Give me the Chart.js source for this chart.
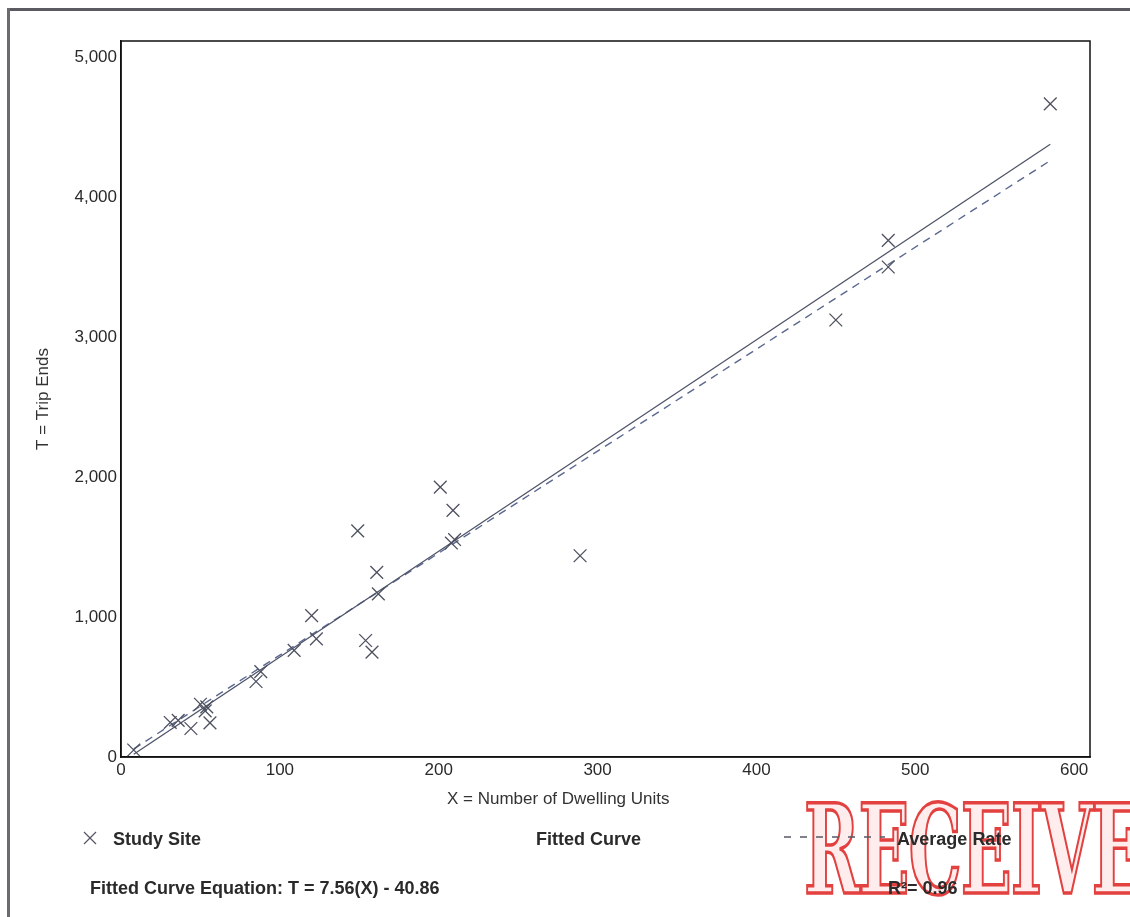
<!DOCTYPE html>
<html>
<head>
<meta charset="utf-8">
<title>Trip Ends vs Dwelling Units</title>
<script src="https://cdn.jsdelivr.net/npm/chart.js@4.4.1/dist/chart.umd.min.js"></script>
<style>
  html, body { margin: 0; padding: 0; background: #fff; }
  body { width: 1130px; height: 917px; position: relative; overflow: hidden;
         font-family: "Liberation Sans", Arial, sans-serif; color: #222; }
  #wrap { position: absolute; left: 0; top: 0; width: 1130px; height: 917px; }
  .frame-top { position: absolute; left: 7px; top: 8px; width: 1123px; height: 3px; background: #5a5a60; }
  .frame-left { position: absolute; left: 7px; top: 8px; width: 3px; height: 909px; background: #6a6a70; }
  .txt { position: absolute; white-space: nowrap; line-height: 1; z-index: 3; }
  .bold { font-weight: bold; font-size: 18px; color: #2a2a2a; }
  #xTitle { font-size: 17px; color: #333; }
  #stamp { position: absolute; left: 804px; top: 788px; z-index: 2;
           font-family: "DejaVu Serif", "Liberation Serif", serif; font-weight: bold;
           font-size: 124px; letter-spacing: -2px; line-height: 1;
           color: rgba(255,215,215,0.45); -webkit-text-stroke: 3.5px #e2413f;
           transform-origin: left top; transform: scaleX(0.54); }
</style>
</head>
<body>
<div id="wrap"><canvas id="tripChart" width="1130" height="917"></canvas></div>
<div class="frame-top"></div>
<div class="frame-left"></div>

<div class="txt" id="xTitle" style="left:447px; top:790px;">X = Number of Dwelling Units</div>

<div id="stamp">RECEIVED</div>

<svg class="txt" style="left:82px; top:830px;" width="16" height="16">
  <line x1="2" y1="2" x2="14" y2="14" stroke="#555a66" stroke-width="1.3"/>
  <line x1="14" y1="2" x2="2" y2="14" stroke="#555a66" stroke-width="1.3"/>
</svg>
<div class="txt bold" style="left:113px; top:830px;">Study Site</div>
<div class="txt bold" style="left:536px; top:830px;">Fitted Curve</div>
<svg class="txt" style="left:782px; top:832px;" width="105" height="10">
  <line x1="2" y1="5" x2="103" y2="5" stroke="#555a66" stroke-width="1.5" stroke-dasharray="7,9"/>
</svg>
<div class="txt bold" style="left:897px; top:830px;">Average Rate</div>
<div class="txt bold" style="left:90px; top:879px;">Fitted Curve Equation: T = 7.56(X) - 40.86</div>
<div class="txt bold" style="left:888px; top:879px;">R²= 0.96</div>

<script>
/* ---------------- data ---------------- */
const siteX = [8, 31, 36, 44, 50, 53, 54, 56, 85, 88, 109, 120, 123, 149, 154, 158,
               161, 162, 201, 208, 209, 210, 289, 450, 483, 483, 585];
const siteY = [50, 247, 262, 204, 377, 330, 358, 244, 540, 610, 762, 1011, 845, 1617, 833, 750,
               1320, 1166, 1930, 1530, 1764, 1555, 1439, 3125, 3694, 3504, 4670];

// fitted curve T = 7.56(X) - 40.86 and average rate, endpoints as drawn
const fitX = [8, 585];
const fitY = [20, 4382];
const avgX = [8, 585];
const avgY = [58, 4265];

const xTicks = [0, 100, 200, 300, 400, 500, 600];
const yTicks = [0, 1000, 2000, 3000, 4000, 5000];

const toPoints = (xs, ys) => xs.map((x, i) => ({ x, y: ys[i] }));

/* ---------------- plot frame (top + right sides) ---------------- */
const frameBox = {
  id: 'frameBox',
  afterDraw(chart) {
    const { ctx, chartArea: a } = chart;
    ctx.save();
    ctx.strokeStyle = '#111';
    ctx.lineWidth = 1.5;
    ctx.strokeRect(a.left, a.top, a.right - a.left, a.bottom - a.top);
    ctx.restore();
  }
};

const tickFont = { family: '"Liberation Sans", Arial, sans-serif', size: 17 };

new Chart(document.getElementById('tripChart'), {
  type: 'scatter',
  data: {
    datasets: [
      {
        label: 'Study Site',
        data: toPoints(siteX, siteY),
        pointStyle: 'crossRot',
        pointRadius: 9,
        borderColor: '#4d5160',
        borderWidth: 1.3,
        order: 1
      },
      {
        type: 'line',
        label: 'Fitted Curve',
        data: toPoints(fitX, fitY),
        borderColor: '#4e5368',
        borderWidth: 1.3,
        pointRadius: 0,
        order: 2
      },
      {
        type: 'line',
        label: 'Average Rate',
        data: toPoints(avgX, avgY),
        borderColor: '#5b6890',
        borderWidth: 1.4,
        borderDash: [8, 6],
        pointRadius: 0,
        order: 3
      }
    ]
  },
  options: {
    responsive: false,
    animation: false,
    layout: { padding: { left: 0, top: 41, right: 40, bottom: 130 } },
    plugins: { legend: { display: false }, tooltip: { enabled: false } },
    scales: {
      x: {
        type: 'linear',
        min: 0,
        max: 610,
        afterBuildTicks: s => { s.ticks = xTicks.map(v => ({ value: v })); },
        afterFit: s => { s.height = 30; },
        grid: { display: false, drawTicks: false, tickLength: 0 },
        border: { color: '#111', width: 1.5 },
        ticks: { color: '#2a2a2a', font: tickFont, padding: 3 }
      },
      y: {
        type: 'linear',
        min: 0,
        max: 5120,
        afterBuildTicks: s => { s.ticks = yTicks.map(v => ({ value: v })); },
        afterFit: s => { s.width = 121; },
        grid: { display: false, drawTicks: false, tickLength: 0 },
        border: { color: '#111', width: 1.5 },
        ticks: { color: '#2a2a2a', font: tickFont, padding: 4,
                 callback: v => v.toLocaleString('en-US') },
        title: {
          display: true,
          text: 'T = Trip Ends',
          color: '#333',
          font: tickFont,
          padding: { top: 33, bottom: 0 }
        }
      }
    }
  },
  plugins: [frameBox]
});
</script>
</body>
</html>
